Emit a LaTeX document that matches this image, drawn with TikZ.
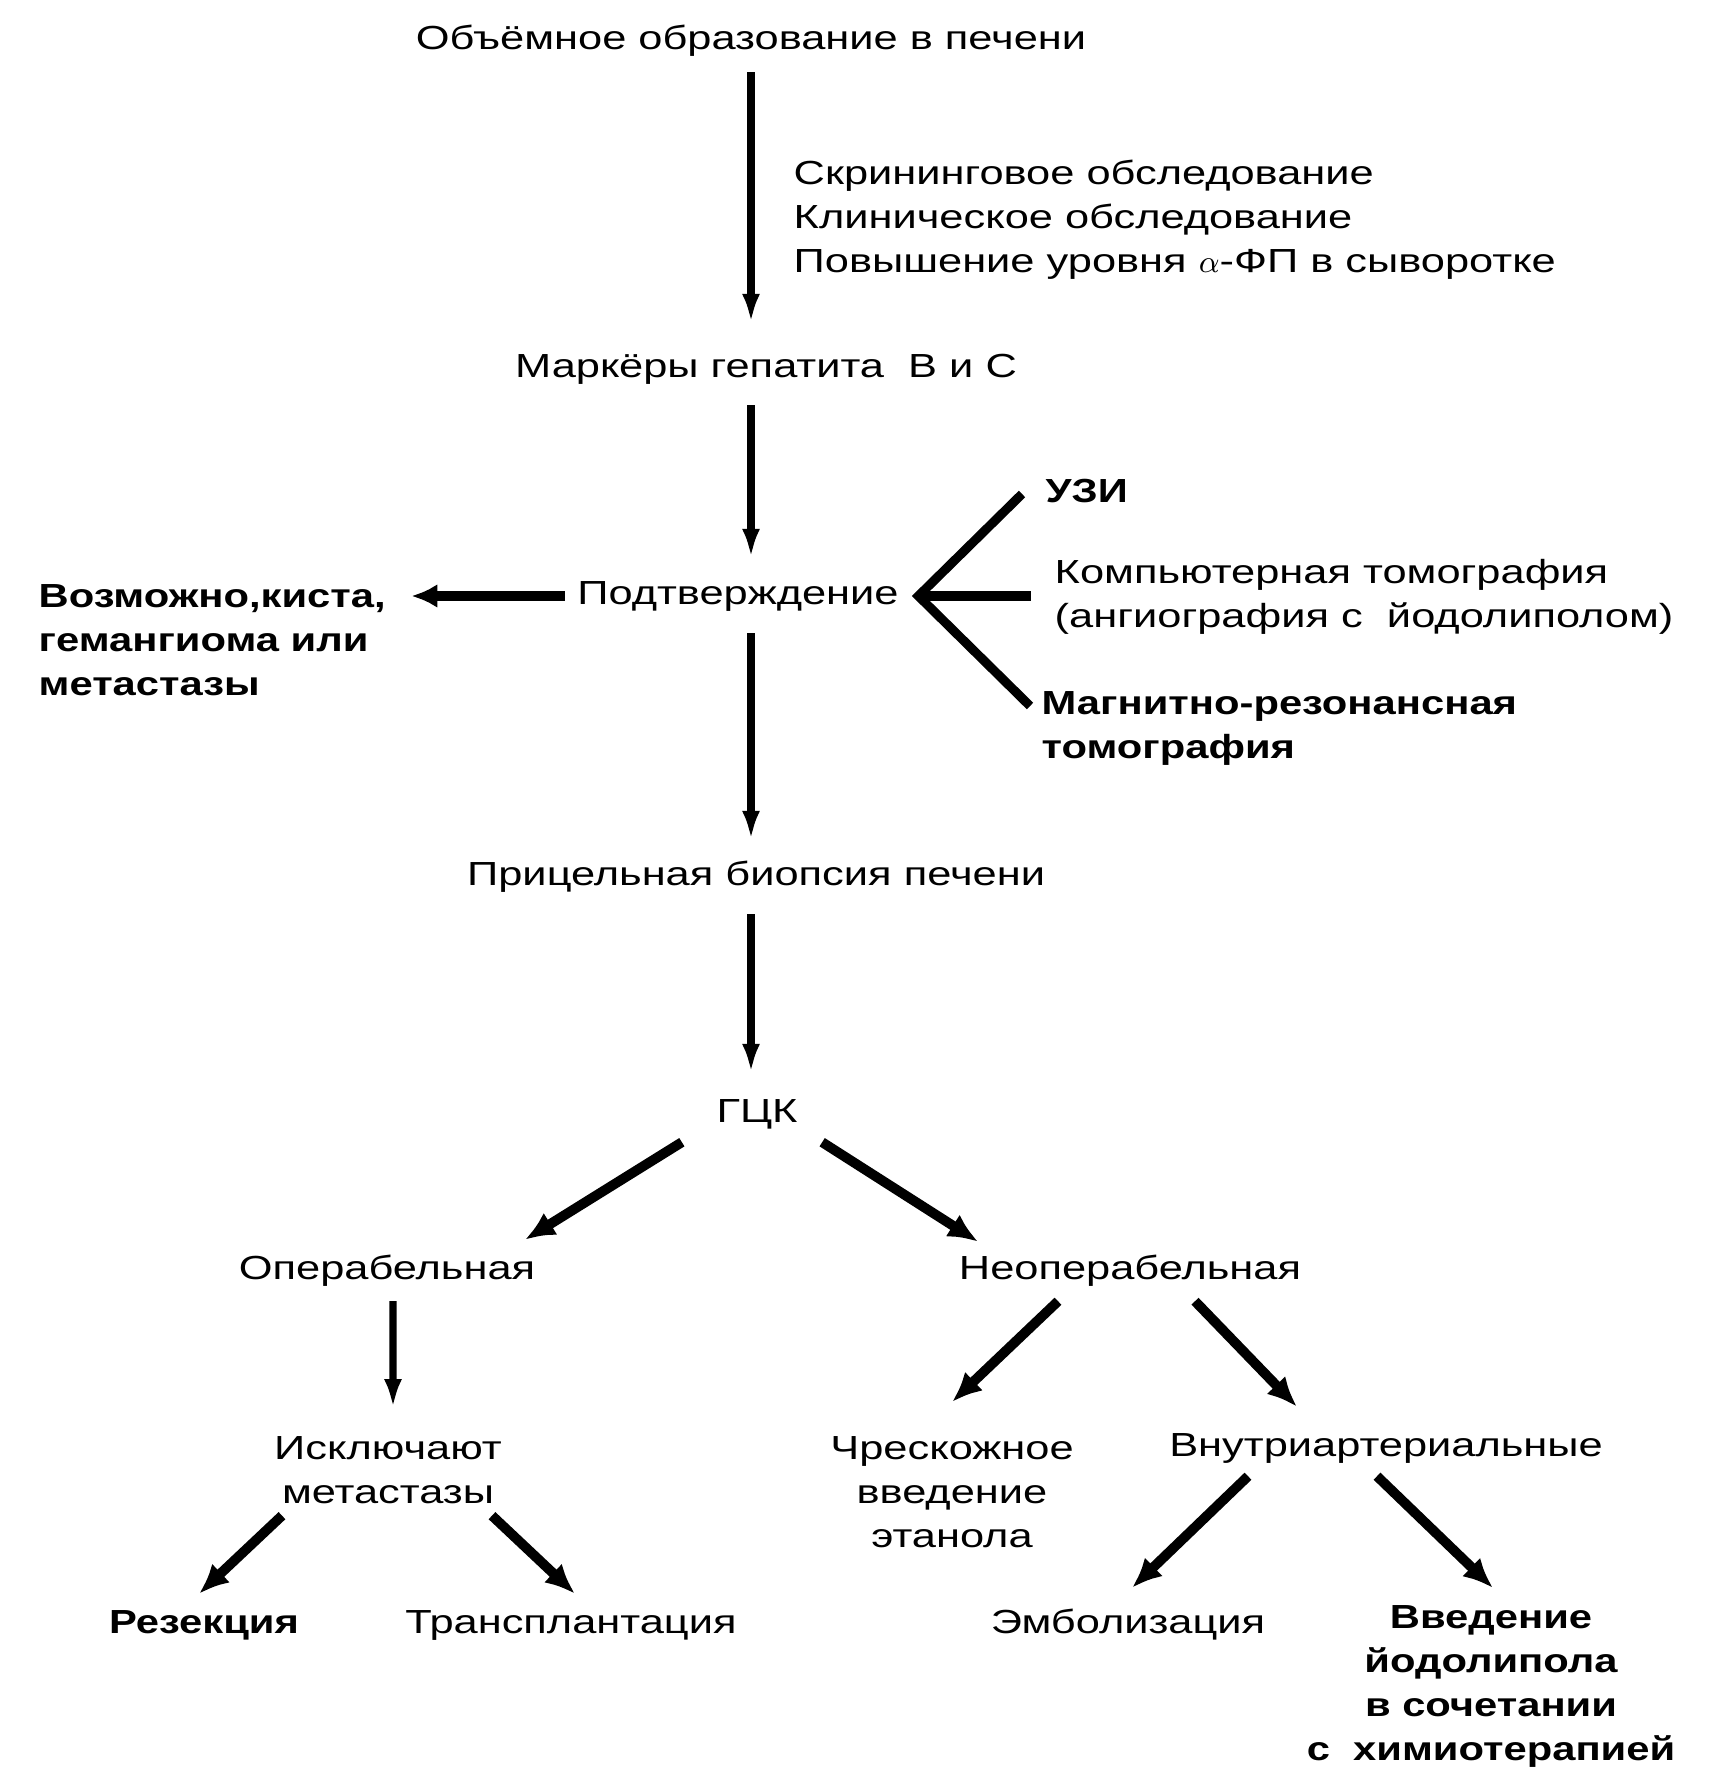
\documentclass[tikz,border=0pt]{standalone}
\usepackage{fontspec}
\setmainfont{Liberation Sans}[FakeStretch=1.3]
\newfontfamily\heavy{Liberation Sans Bold}[FakeStretch=1.25]
\usepackage{tikz}
\usetikzlibrary{positioning,arrows.meta,calc}
\tikzset{one/.style={inner sep=0pt, text height=2.4mm, text depth=0.7mm, font=\fontsize{9.5}{12.5}\selectfont},
    multi/.style={inner sep=0pt, align=#1, font=\fontsize{9.5}{12.5}\selectfont},
    multi/.default=center,
    bold/.style={font=\fontsize{9.5}{12.5}\heavy},
    varr/.style={-{Latex[length=2.9mm,width=1.8mm]}, line width=2.1pt},
    darr/.style={-{Latex[length=3mm,width=2.6mm]}, line width=2.8pt},
    fan/.style={line width=2.6pt, line join=miter}
}

\begin{document}
\begin{tikzpicture}
		\useasboundingbox (0,0) rectangle (17.15,-17.85);

		\node[one] (obr) at (7.51,-0.41) {Объёмное образование в печени};
		\node[multi=left, anchor=north west] (skrin) at (7.93,-1.59) {Скрининговое обследование\\Клиническое обследование\\Повышение уровня $\alpha$-ФП в сыворотке};
		\node[one] (mark) at (7.66,-3.69) {Маркёры гепатита\ \ В и С};
		\node[one] (podtv) at (7.38,-5.96) {Подтверждение};
		\node[multi=left, anchor=north west, bold] (vozm) at (0.38,-5.84) {Возможно,киста,\\гемангиома или\\метастазы};
		\node[one, anchor=west, bold] (uzi) at (10.45,-4.94) {УЗИ};
		\node[multi=left, anchor=north west] (kt) at (10.54,-5.59) {Компьютерная томография\\(ангиография с\ \ йодолиполом)};
		\node[multi=left, anchor=north west, bold] (mrt) at (10.41,-6.91) {Магнитно-резонансная\\томография};
		\node[one] (biop) at (7.56,-8.77) {Прицельная биопсия печени};
		\node[one] (gck) at (7.57,-11.14) {ГЦК};
		\node[one] (oper) at (3.87,-12.71) {Операбельная};
		\node[one] (neop) at (11.30,-12.71) {Неоперабельная};
		\node[multi, anchor=north] (iskl) at (3.88,-14.36) {Исключают\\метастазы};
		\node[multi, anchor=north] (chresk) at (9.52,-14.36) {Чрескожное\\введение\\этанола};
		\node[one] (vnutr) at (13.86,-14.48) {Внутриартериальные};
		\node[one, bold] (rez) at (2.04,-16.25) {Резекция};
		\node[one] (transp) at (5.71,-16.25) {Трансплантация};
		\node[one] (emb) at (11.28,-16.25) {Эмболизация};
		\node[multi, anchor=north, bold] (vved) at (14.91,-16.05) {Введение\\йодолипола\\в сочетании\\с\ \ химиотерапией};

		\draw[varr] ([yshift=-1.5mm]obr.south) -- ([yshift=3mm]obr.south |- mark.north);
		\draw[varr] ([yshift=-2mm]mark.south -| obr.south) -- ([yshift=2.2mm]podtv.north -| obr.south);
		\draw[varr] ([yshift=-2.1mm]podtv.south -| obr.south) -- ([yshift=2.1mm]biop.north -| obr.south);
		\draw[varr] ([yshift=-2.1mm]biop.south -| obr.south) -- ([yshift=2.5mm]gck.north -| obr.south);
		\draw[-{Latex[length=2.6mm,width=2.4mm]}, line width=2.8pt] ([xshift=-1.2mm]podtv.west) -- ([xshift=2.5mm]podtv.west -| vozm.east);

		\coordinate[right=1.9mm of podtv] (apex);
		\draw[fan] ([xshift=-2.3mm]uzi.west) -- (apex) -- ([shift={(-1.1mm,-1.5mm)}]mrt.north west);
		\draw[fan] (apex) -- ([xshift=-2.3mm]apex -| kt.west);

		\draw[darr] ([shift={(-3.4mm,-1.2mm)}]gck.south west) -- ([shift={(-1.1mm,1.5mm)}]oper.north east);
		\draw[darr] ([shift={(2.4mm,-1.2mm)}]gck.south east) -- ([shift={(2mm,1.3mm)}]neop.north west);
		\draw[varr] ([shift={(0.6mm,-1.4mm)}]oper.south) -- ([shift={(0.5mm,2.8mm)}]iskl.north);
		\draw[darr] ([shift={(-7.2mm,-1.4mm)}]neop.south) -- ([shift={(0mm,3.4mm)}]chresk.north);
		\draw[darr] ([shift={(6.5mm,-1.4mm)}]neop.south) -- ([shift={(-8.9mm,2.5mm)}]vnutr.north);
		\draw[darr] ([shift={(-10.6mm,-1.1mm)}]iskl.south) -- ([shift={(-0.5mm,1.5mm)}]rez.north);
		\draw[darr] ([shift={(10.4mm,-1.1mm)}]iskl.south) -- ([shift={(0.4mm,1.5mm)}]transp.north);
		\draw[darr] ([shift={(-13.8mm,-1.2mm)}]vnutr.south) -- ([shift={(0.4mm,2.1mm)}]emb.north);
		\draw[darr] ([shift={(-0.9mm,-1.2mm)}]vnutr.south) -- ([shift={(0.2mm,1.7mm)}]vved.north);
	\end{tikzpicture}
\end{document}
